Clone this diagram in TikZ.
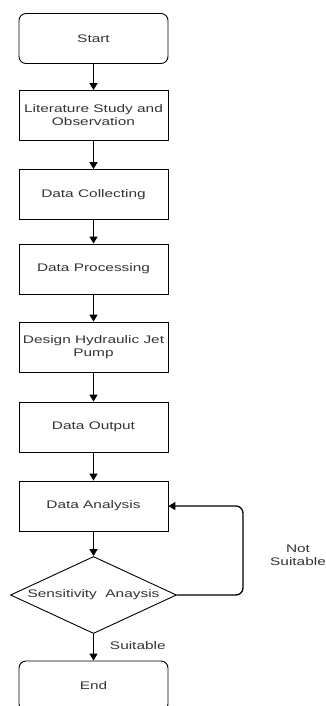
\documentclass[tikz,border=0pt]{standalone}
\usepackage{fontspec}
\setmainfont{Liberation Sans}[FakeStretch=1.4]
\usetikzlibrary{shapes.geometric,arrows.meta}
\definecolor{txtgray}{HTML}{333333}
\begin{document}
\begin{tikzpicture}[x=1pt,y=-1pt,
    line width=1.3pt,
    flow/.style={-{Triangle[width=8pt,length=7pt]}},
    lbl/.style={text=txtgray,font=\fontsize{11}{13}\selectfont,align=center}]
    \tikzstyle{process}=[draw,rectangle,minimum width=149pt,minimum height=50pt,inner sep=0pt,
        text=txtgray,font=\fontsize{11}{13}\selectfont,align=center,line width=0.9pt]
    \tikzstyle{terminal}=[process,rounded corners=7pt]
    \tikzstyle{decision}=[draw,diamond,aspect=2.16,minimum width=166pt,minimum height=77pt,inner sep=0pt,
        text=txtgray,font=\fontsize{11}{13}\selectfont,line width=0.9pt]

    \clip (0,0) rectangle (326,706);

    \node[terminal] (start) at (93.5,38.5) {Start};
    \node[process] (lit) at (93.5,115.5) {Literature Study and\\Observation};
    \node[process] (collect) at (93.5,194.5) {Data Collecting};
    \node[process] (proc) at (93.5,269) {Data Processing};
    \node[process] (design) at (93.5,347) {Design Hydraulic Jet\\Pump};
    \node[process] (output) at (93.5,427) {Data Output};
    \node[process] (ana) at (93.5,506) {Data Analysis};
    \node[decision] (sens) at (93.5,595) {Sensitivity\ \ Anaysis};
    \node[terminal] (end) at (93.5,686) {End};

    \draw[flow] (start) -- (lit);
    \draw[flow] (lit) -- (collect);
    \draw[flow] (collect) -- (proc);
    \draw[flow] (proc) -- (design);
    \draw[flow] (design) -- (output);
    \draw[flow] (output) -- (ana);
    \draw[flow] (ana) -- (sens);
    \draw[flow] (sens) -- (end);
    \draw[flow,rounded corners=7pt] (sens.east) -- ++(66,0) |- (ana.east);

    \node[lbl,anchor=west] (suit) at (106,646) {Suitable};
    \node[lbl] (notsuit) at (298,555) {Not\\Suitable};

\end{tikzpicture}
\end{document}
